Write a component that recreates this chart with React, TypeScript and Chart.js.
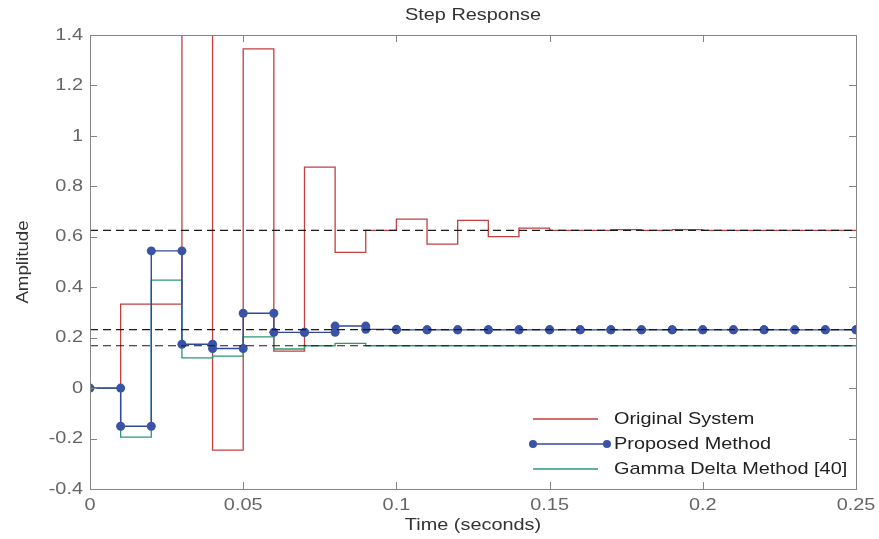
import React, { useEffect, useRef } from "react";
import { Chart, registerables } from "chart.js";

Chart.register(...registerables);

const times = [0, 0.01, 0.02, 0.03, 0.04, 0.05, 0.06, 0.07, 0.08, 0.09, 0.1, 0.11, 0.12, 0.13, 0.14, 0.15, 0.16, 0.17, 0.18, 0.19, 0.2, 0.21, 0.22, 0.23, 0.24, 0.25];
const originalSystem = [0, 0.333, 0.333, 1.9, -0.246, 1.345, 0.147, 0.876, 0.538, 0.625, 0.67, 0.571, 0.665, 0.601, 0.634, 0.625, 0.625, 0.628, 0.625, 0.628, 0.625, 0.625, 0.625, 0.625, 0.625, 0.625];
const proposedMethod = [0, -0.151, 0.544, 0.174, 0.157, 0.297, 0.221, 0.221, 0.246, 0.233, 0.231, 0.231, 0.231, 0.231, 0.231, 0.231, 0.231, 0.231, 0.231, 0.231, 0.231, 0.231, 0.231, 0.231, 0.231, 0.231];
const gammaDeltaMethod = [0, -0.194, 0.428, 0.12, 0.127, 0.203, 0.155, 0.168, 0.177, 0.168, 0.168, 0.168, 0.168, 0.168, 0.168, 0.168, 0.168, 0.168, 0.168, 0.168, 0.168, 0.168, 0.168, 0.168, 0.168, 0.168];
const steadyStateLevels = [0.625, 0.232, 0.168];
const xTicks = [0, 0.05, 0.1, 0.15, 0.2, 0.25];
const yTicks = [-0.4, -0.2, 0, 0.2, 0.4, 0.6, 0.8, 1, 1.2, 1.4];
const legendLabels = ["Original System", "Proposed Method", "Gamma Delta Method [40]"];
const titleText = "Step Response";
const xTitle = "Time (seconds)";
const yTitle = "Amplitude";

const RED = "#c23f3f";
const BLUE = "#2f4a9c";
const BLUE_PT = "#3a53a6";
const GREEN = "#2a9a6c";
const FONT = "'Liberation Sans', Arial, sans-serif";
const SX = 1.17;

function stairs(vals: number[]) {
  const pts: { x: number; y: number }[] = [];
  for (let k = 0; k < times.length - 1; k++) {
    pts.push({ x: times[k], y: vals[k] });
    pts.push({ x: times[k + 1], y: vals[k] });
  }
  pts.push({ x: times[times.length - 1], y: vals[vals.length - 1] });
  return pts;
}

function text(ctx: any, s: string, x: number, y: number, align: "left" | "center" | "right", color: string, size = 17) {
  ctx.save();
  ctx.font = `${size}px ${FONT}`;
  ctx.fillStyle = color;
  ctx.textBaseline = "middle";
  ctx.textAlign = align;
  ctx.translate(x, y);
  ctx.scale(SX, 1);
  ctx.fillText(s, 0, 0);
  ctx.restore();
}

const decor = {
  id: "decor",
  afterDraw(chart: any) {
    const { ctx, chartArea: a, scales } = chart;
    const xs = scales.x;
    const ys = scales.y;
    ctx.save();
    // box
    ctx.strokeStyle = "#858585";
    ctx.lineWidth = 1;
    ctx.strokeRect(a.left + 0.5, a.top + 0.5, a.right - a.left, a.bottom - a.top);
    // inward ticks
    const tl = 7;
    ctx.beginPath();
    xTicks.forEach((v) => {
      const px = Math.round(xs.getPixelForValue(v)) + 0.5;
      ctx.moveTo(px, a.bottom);
      ctx.lineTo(px, a.bottom - tl);
      ctx.moveTo(px, a.top);
      ctx.lineTo(px, a.top + tl);
    });
    yTicks.forEach((v) => {
      const py = Math.round(ys.getPixelForValue(v)) + 0.5;
      ctx.moveTo(a.left, py);
      ctx.lineTo(a.left + tl, py);
      ctx.moveTo(a.right, py);
      ctx.lineTo(a.right - tl, py);
    });
    ctx.stroke();
    // tick labels
    xTicks.forEach((v) => {
      text(ctx, String(v), xs.getPixelForValue(v), 505, "center", "#666");
    });
    yTicks.forEach((v) => {
      text(ctx, String(v), a.left - 7, ys.getPixelForValue(v), "right", "#666");
    });
    // title & axis titles
    text(ctx, titleText, (a.left + a.right) / 2, 15, "center", "#333");
    text(ctx, xTitle, (a.left + a.right) / 2, 525, "center", "#333");
    ctx.save();
    ctx.translate(24, (a.top + a.bottom) / 2);
    ctx.rotate(-Math.PI / 2);
    ctx.font = `16px ${FONT}`;
    ctx.fillStyle = "#333";
    ctx.textAlign = "center";
    ctx.textBaseline = "middle";
    ctx.scale(SX, 1);
    ctx.fillText(yTitle, 0, 0);
    ctx.restore();
    // legend
    const lx0 = 533, lx1 = 598, tx = 614;
    const rows = [419, 444, 469];
    const cols = [RED, BLUE, GREEN];
    ctx.lineWidth = 1.3;
    rows.forEach((ry, i) => {
      ctx.strokeStyle = cols[i];
      ctx.beginPath();
      ctx.moveTo(lx0, ry);
      ctx.lineTo(i === 1 ? 607 : lx1, ry);
      ctx.stroke();
      if (i === 1) {
        ctx.fillStyle = BLUE_PT;
        [lx0, 607].forEach((px) => {
          ctx.beginPath();
          ctx.arc(px, ry, 4, 0, Math.PI * 2);
          ctx.fill();
        });
      }
      text(ctx, legendLabels[i], tx, ry, "left", "#222");
    });
    ctx.restore();
  },
};

export default function App() {
  const ref = useRef<HTMLCanvasElement>(null);
  useEffect(() => {
    if (!ref.current) return;
    const dashed = steadyStateLevels.map((lvl) => ({
      data: [
        { x: times[0], y: lvl },
        { x: times[times.length - 1], y: lvl },
      ],
      borderColor: "#1a1a1a",
      borderWidth: 1.2,
      borderDash: [8, 5],
      pointRadius: 0,
      order: 0,
    }));
    const chart = new Chart(ref.current, {
      type: "line",
      data: {
        datasets: [
          ...dashed,
          {
            label: legendLabels[1],
            data: stairs(proposedMethod),
            borderColor: BLUE,
            borderWidth: 1.4,
            pointRadius: 4.5,
            pointBackgroundColor: BLUE_PT,
            pointBorderColor: BLUE_PT,
            pointBorderWidth: 0,
            order: 1,
          },
          {
            label: legendLabels[2],
            data: stairs(gammaDeltaMethod),
            borderColor: GREEN,
            borderWidth: 1.3,
            pointRadius: 0,
            order: 2,
          },
          {
            label: legendLabels[0],
            data: stairs(originalSystem),
            borderColor: RED,
            borderWidth: 1.3,
            pointRadius: 0,
            order: 3,
          },
        ] as any,
      },
      options: {
        responsive: false,
        animation: false,
        layout: { padding: { top: 35, right: 23, left: 0, bottom: 0 } },
        plugins: {
          legend: { display: false },
          tooltip: { enabled: false },
          title: { display: false },
        },
        elements: { line: { tension: 0 } },
        scales: {
          x: {
            type: "linear",
            min: 0,
            max: 0.25,
            grid: { display: false, drawTicks: false },
            border: { display: false },
            afterBuildTicks: (s: any) => {
              s.ticks = xTicks.map((v) => ({ value: v }));
            },
            afterFit: (s: any) => {
              s.height = 50;
            },
            ticks: { display: false },
          },
          y: {
            type: "linear",
            min: -0.4,
            max: 1.4,
            grid: { display: false, drawTicks: false },
            border: { display: false },
            afterBuildTicks: (s: any) => {
              s.ticks = yTicks.map((v) => ({ value: v }));
            },
            afterFit: (s: any) => {
              s.width = 90;
            },
            ticks: { display: false },
          },
        },
      },
      plugins: [decor],
    });
    return () => chart.destroy();
  }, []);
  return (
    <div style={{ position: "absolute", left: 0, top: 0, width: 879, height: 539, background: "#fff" }}>
      <canvas ref={ref} width={879} height={539} />
    </div>
  );
}
